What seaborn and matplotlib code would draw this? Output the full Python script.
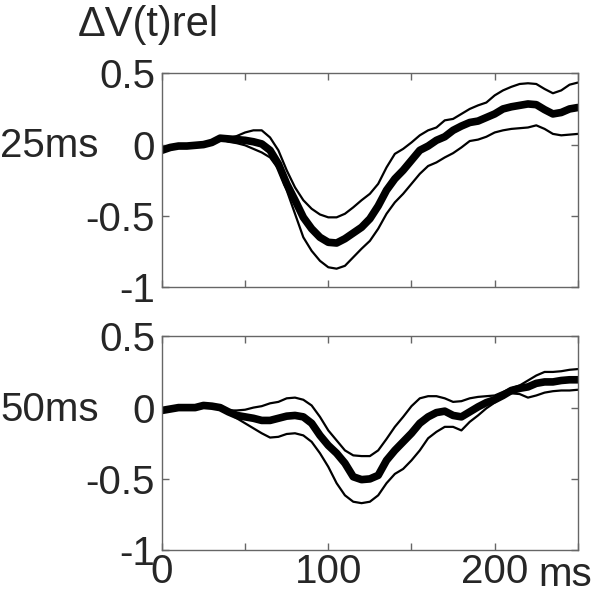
import numpy as np
import pandas as pd
import matplotlib
matplotlib.use("Agg")
import matplotlib.pyplot as plt
import seaborn as sns

# time axis (ms), 5 ms steps
t = list(range(0, 251, 5))

mean_25 = [-0.04, -0.02, -0.01, -0.01, -0.005, 0.0, 0.015, 0.045, 0.04, 0.035,
           0.03, 0.02, 0.005, -0.04, -0.135, -0.275, -0.39, -0.51, -0.59, -0.65,
           -0.685, -0.69, -0.66, -0.62, -0.58, -0.52, -0.43, -0.32, -0.24, -0.18,
           -0.11, -0.04, -0.01, 0.03, 0.055, 0.1, 0.13, 0.155, 0.165, 0.19,
           0.215, 0.25, 0.265, 0.275, 0.285, 0.28, 0.245, 0.215, 0.225, 0.25, 0.26]
upper_25 = [-0.035, -0.015, -0.005, -0.005, 0.0, 0.005, 0.02, 0.05, 0.045, 0.06,
            0.085, 0.1, 0.1, 0.05, -0.04, -0.18, -0.3, -0.39, -0.45, -0.49,
            -0.51, -0.51, -0.485, -0.44, -0.39, -0.345, -0.275, -0.16, -0.065, -0.03,
            0.015, 0.065, 0.1, 0.12, 0.17, 0.18, 0.215, 0.25, 0.275, 0.295,
            0.345, 0.38, 0.405, 0.425, 0.43, 0.425, 0.39, 0.36, 0.38, 0.42, 0.435]
lower_25 = [-0.045, -0.025, -0.015, -0.015, -0.01, -0.005, 0.01, 0.04, 0.02, 0.01,
            -0.005, -0.03, -0.055, -0.09, -0.17, -0.32, -0.485, -0.65, -0.745, -0.815,
            -0.86, -0.87, -0.85, -0.79, -0.73, -0.675, -0.59, -0.485, -0.405, -0.345,
            -0.275, -0.205, -0.15, -0.125, -0.09, -0.06, -0.02, 0.025, 0.035, 0.055,
            0.085, 0.1, 0.11, 0.115, 0.12, 0.135, 0.11, 0.075, 0.065, 0.07, 0.075]

mean_50 = [-0.02, -0.01, 0.0, 0.0, 0.0, 0.015, 0.01, 0.0, -0.03, -0.055,
           -0.065, -0.075, -0.09, -0.09, -0.075, -0.06, -0.055, -0.065, -0.11, -0.195,
           -0.265, -0.32, -0.39, -0.485, -0.505, -0.5, -0.475, -0.37, -0.3, -0.24,
           -0.18, -0.11, -0.065, -0.035, -0.025, -0.055, -0.065, -0.03, 0.005, 0.035,
           0.055, 0.085, 0.12, 0.135, 0.145, 0.17, 0.18, 0.18, 0.19, 0.195, 0.195]
upper_50 = [-0.015, -0.005, 0.005, 0.005, 0.005, 0.02, 0.015, 0.005, -0.02, -0.02,
            -0.015, 0.0, 0.01, 0.03, 0.04, 0.065, 0.07, 0.055, 0.015, -0.065,
            -0.16, -0.23, -0.3, -0.335, -0.34, -0.34, -0.3, -0.22, -0.135, -0.065,
            0.01, 0.065, 0.08, 0.08, 0.065, 0.04, 0.045, 0.065, 0.075, 0.08,
            0.085, 0.11, 0.135, 0.155, 0.19, 0.225, 0.25, 0.25, 0.255, 0.265, 0.27]
lower_50 = [-0.025, -0.015, -0.005, -0.005, -0.005, 0.01, 0.005, -0.005, -0.035, -0.075,
            -0.11, -0.145, -0.18, -0.21, -0.205, -0.185, -0.18, -0.195, -0.24, -0.32,
            -0.415, -0.53, -0.615, -0.66, -0.67, -0.66, -0.615, -0.53, -0.465, -0.43,
            -0.37, -0.3, -0.215, -0.17, -0.135, -0.135, -0.16, -0.1, -0.055, -0.005,
            0.035, 0.08, 0.1, 0.095, 0.07, 0.085, 0.105, 0.115, 0.12, 0.12, 0.125]

panels = [("25ms", mean_25, upper_25, lower_25),
          ("50ms", mean_50, upper_50, lower_50)]

sns.set_style("ticks")
plt.rcParams['font.family'] = ['Liberation Sans', 'DejaVu Sans']
fs = 29

fig = plt.figure(figsize=(5.93, 5.91), dpi=100)
boxes = [[0.273, 0.514, 0.7015, 0.362], [0.273, 0.069, 0.7015, 0.362]]

for i, (name, m, up, lo) in enumerate(panels):
    ax = fig.add_axes(boxes[i])
    df = pd.DataFrame({"t": t, "mean": m, "upper": up, "lower": lo})
    sns.lineplot(data=df, x="t", y="upper", color="black", lw=1.6, ax=ax)
    sns.lineplot(data=df, x="t", y="lower", color="black", lw=1.6, ax=ax)
    sns.lineplot(data=df, x="t", y="mean", color="black", lw=5.5, ax=ax)
    ax.set_xlim(0, 250)
    ax.set_ylim(-1, 0.5)
    ax.set_xticks([0, 50, 100, 150, 200, 250])
    ax.set_yticks([-1, -0.5, 0, 0.5])
    ax.set_yticklabels(["-1", "-0.5", "0", "0.5"])
    if i == 1:
        ax.set_xticklabels(["0", "", "100", "", "200", ""])
    else:
        ax.set_xticklabels([])
    ax.tick_params(direction="in", top=True, right=True, length=5,
                   width=1, color="#666666", labelsize=fs, pad=5)
    ax.tick_params(axis="x", pad=2)
    ax.set_xlabel("")
    ax.set_ylabel("")
    for s in ax.spines.values():
        s.set_color("#666666")
        s.set_linewidth(1)
    yc = 1 - (146 if i == 0 else 410) / 591
    fig.text(0.0, yc, name, ha="left", va="center", fontsize=fs)

fig.text(78 / 593, 1 - 36 / 591, "ΔV(t)rel", ha="left", va="baseline", fontsize=30)
fig.text(565 / 593, 1 - 586 / 591, "ms", ha="center", va="baseline", fontsize=fs)

fig.savefig("out.png", dpi=100)
